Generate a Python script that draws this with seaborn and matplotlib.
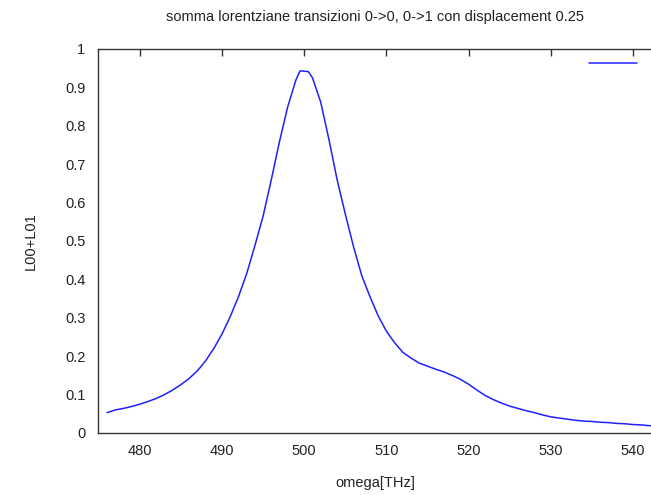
import pandas as pd
import matplotlib
matplotlib.use('Agg')
import matplotlib.pyplot as plt
import seaborn as sns

# values (omega in THz, L00+L01)
omega = [476, 477, 478, 479, 480, 481, 482, 483, 484, 485, 486, 487, 488, 489,
         490, 491, 492, 493, 494, 495, 496, 497, 498, 499, 499.5, 500.5, 501,
         502, 503, 504, 505, 506, 507, 508, 509, 510, 511, 512, 513, 514, 515,
         516, 517, 518, 519, 520, 521, 522, 523, 524, 525, 526, 527, 528, 529,
         530, 531, 532, 533, 534, 535, 536, 537, 538, 539, 540, 541, 542, 543]
l00_l01 = [0.053, 0.060, 0.064, 0.069, 0.075, 0.082, 0.090, 0.100, 0.112, 0.126,
           0.142, 0.162, 0.188, 0.220, 0.258, 0.303, 0.355, 0.415, 0.488, 0.565,
           0.660, 0.760, 0.850, 0.920, 0.943, 0.941, 0.925, 0.862, 0.765, 0.660,
           0.570, 0.485, 0.410, 0.355, 0.305, 0.265, 0.235, 0.210, 0.195, 0.182,
           0.174, 0.166, 0.159, 0.150, 0.140, 0.127, 0.112, 0.098, 0.087, 0.078,
           0.070, 0.064, 0.058, 0.053, 0.047, 0.042, 0.039, 0.036, 0.033, 0.031,
           0.030, 0.028, 0.027, 0.025, 0.024, 0.022, 0.021, 0.019, 0.018]
yticks = [0, 0.1, 0.2, 0.3, 0.4, 0.5, 0.6, 0.7, 0.8, 0.9, 1]
xticks = [480, 490, 500, 510, 520, 530, 540]

title = 'somma lorentziane transizioni 0->0, 0->1 con displacement 0.25'

sns.set_style('white')
plt.rcParams['font.family'] = ['Liberation Sans', 'DejaVu Sans']

df = pd.DataFrame({'omega': omega, 'L': l00_l01})

fig = plt.figure(figsize=(6.51, 4.95), dpi=100)
# the plot runs past the right edge of the picture, as in the reference
ax = fig.add_axes([0.1505, 0.1253, 0.8848, 0.7758])

sns.lineplot(data=df, x='omega', y='L', ax=ax, color='#2020ff', linewidth=1.1)

ax.set_xlim(474.9, 545)
ax.set_ylim(0, 1)
ax.set_xticks(xticks)
ax.set_yticks(yticks)
ax.set_yticklabels([f'{v:g}' for v in yticks])
ax.set_xlabel('')
ax.set_ylabel('')

for s in ax.spines.values():
    s.set_color('#333333')
    s.set_linewidth(1.0)
ax.tick_params(direction='in', top=True, right=True, length=5, width=1,
               color='#333333', labelcolor='#222222', labelsize=10.5)
ax.tick_params(axis='y', pad=9)
ax.tick_params(axis='x', pad=8)

# key with empty title
line = ax.lines[0]
ax.legend(handles=[line], labels=[''], frameon=False, handlelength=3.46,
          handletextpad=0, borderpad=0, borderaxespad=0, loc='center left',
          bbox_to_anchor=(589 / 651, 1 - 64 / 495),
          bbox_transform=fig.transFigure, fontsize=10)

fig.text(375 / 651, 1 - 17 / 495, title, ha='center', va='center',
         fontsize=10.5, color='#222222')
fig.text(375 / 651, 1 - 483 / 495, 'omega[THz]', ha='center', va='center',
         fontsize=10.5, color='#222222')
fig.text(31 / 651, 1 - 241 / 495, 'L00+L01', ha='center', va='center',
         rotation=90, fontsize=10.5, color='#222222')

fig.savefig('out.png', dpi=100)
